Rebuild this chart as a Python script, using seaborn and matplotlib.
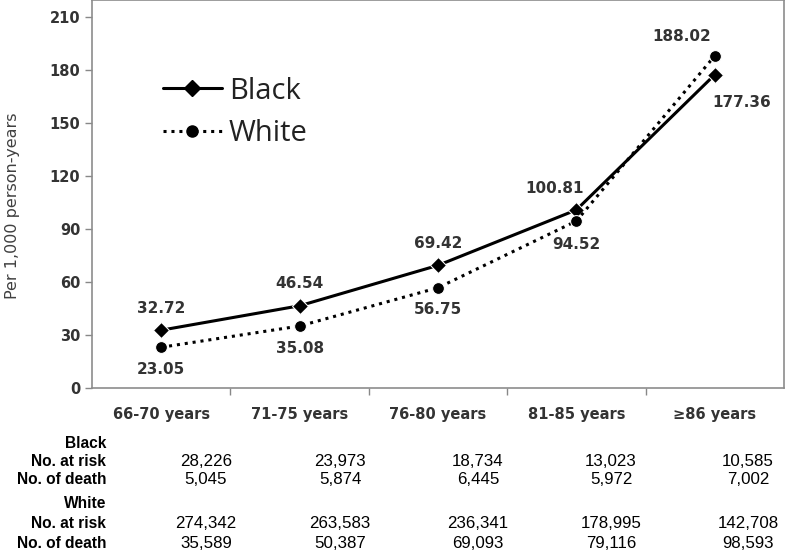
import numpy as np
import pandas as pd
import seaborn as sns
import matplotlib.pyplot as plt
from matplotlib.lines import Line2D

# data
age_groups = ['66-70 years', '71-75 years', '76-80 years', '81-85 years', '≥86 years']
black_rate = [32.72, 46.54, 69.42, 100.81, 177.36]
white_rate = [23.05, 35.08, 56.75, 94.52, 188.02]

black_risk = ['28,226', '23,973', '18,734', '13,023', '10,585']
black_death = ['5,045', '5,874', '6,445', '5,972', '7,002']
white_risk = ['274,342', '263,583', '236,341', '178,995', '142,708']
white_death = ['35,589', '50,387', '69,093', '79,116', '98,593']

df = pd.DataFrame({
    'age': age_groups * 2,
    'x': list(range(5)) * 2,
    'rate': black_rate + white_rate,
    'race': ['Black'] * 5 + ['White'] * 5,
})

sns.set_style('white')
plt.rcParams['font.family'] = ['DejaVu Sans']

fig = plt.figure(figsize=(7.86, 5.51), dpi=100)
ax = fig.add_axes([92 / 786, 1 - 388 / 551, 692 / 786, 388 / 551])

sns.lineplot(data=df, x='x', y='rate', hue='race', style='race',
             palette={'Black': 'black', 'White': 'black'},
             markers={'Black': 'D', 'White': 'o'},
             dashes={'Black': '', 'White': (1, 1.6)},
             markersize=8.5, linewidth=2.2, legend=False, ax=ax)

ax.set_xlim(-0.5, 4.5)
ax.set_ylim(0, 219.6)
ax.set_yticks(range(0, 211, 30))
ax.set_xticks(range(5))
ax.set_xticklabels(age_groups, fontweight='bold', fontsize=10.5, color='#333333')
ax.set_xticks(np.arange(0.5, 4.5, 1), minor=True)
ax.tick_params(axis='x', which='major', length=0, pad=14)
ax.tick_params(axis='x', which='minor', length=5, width=1, color='#888888', direction='out', bottom=True)
ax.tick_params(axis='y', length=5, width=1, color='#888888', direction='out', left=True,
               labelsize=10.5)
for lab in ax.get_yticklabels():
    lab.set_fontweight('bold')
    lab.set_color('#333333')
ax.set_xlabel('')
ax.set_ylabel('Per 1,000 person-years', fontsize=11.5, color='#404040')
ax.yaxis.set_label_coords(-0.104, 0.47)
for s in ax.spines.values():
    s.set_color('#8c8c8c')
    s.set_linewidth(1.2)

# point labels (offsets in px)
lab_kw = dict(textcoords='offset points', ha='center', va='center',
              fontsize=11, fontweight='bold', color='#333333')
black_off = [(0, -22), (0, -22), (0, -22), (-22, -21), (27, 28)]
white_off = [(0, 22), (0, 22), (0, 22), (0, 24), (-33, -19)]
for i in range(5):
    dx, dy = black_off[i]
    ax.annotate(f'{black_rate[i]:.2f}', (i, black_rate[i]), xytext=(dx * 0.72, -dy * 0.72), **lab_kw)
    dx, dy = white_off[i]
    ax.annotate(f'{white_rate[i]:.2f}', (i, white_rate[i]), xytext=(dx * 0.72, -dy * 0.72), **lab_kw)

# legend
handles = [Line2D([], [], color='black', lw=2.2, marker='D', markersize=8),
           Line2D([], [], color='black', lw=2.2, ls=(0, (1, 1.6)), marker='o', markersize=8)]
leg = ax.legend(handles, ['Black', 'White'], loc='upper left', bbox_to_anchor=(0.065, 0.87),
                frameon=False, handlelength=2.0, handletextpad=0.25, labelspacing=0.45,
                prop={'family': 'Open Sans', 'size': 21})
for t in leg.get_texts():
    t.set_color('#222222')

# table below
rows = [('Black', None, 443), ('No. at risk', black_risk, 462), ('No. of death', black_death, 480),
        ('White', None, 503), ('No. at risk', white_risk, 523), ('No. of death', white_death, 543)]
col_px = [206, 340, 478, 611, 748]
for label, vals, ypx in rows:
    yf = 1 - ypx / 551
    fig.text(106 / 786, yf, label, ha='right', va='center', fontsize=11.2,
             fontweight='bold', family='Liberation Sans', color='black')
    if vals is not None:
        for i, v in enumerate(vals):
            fig.text(col_px[i] / 786, yf, v, ha='center', va='center', fontsize=12.2,
                     family='Liberation Sans', color='black')

fig.savefig('out.png', dpi=100)
